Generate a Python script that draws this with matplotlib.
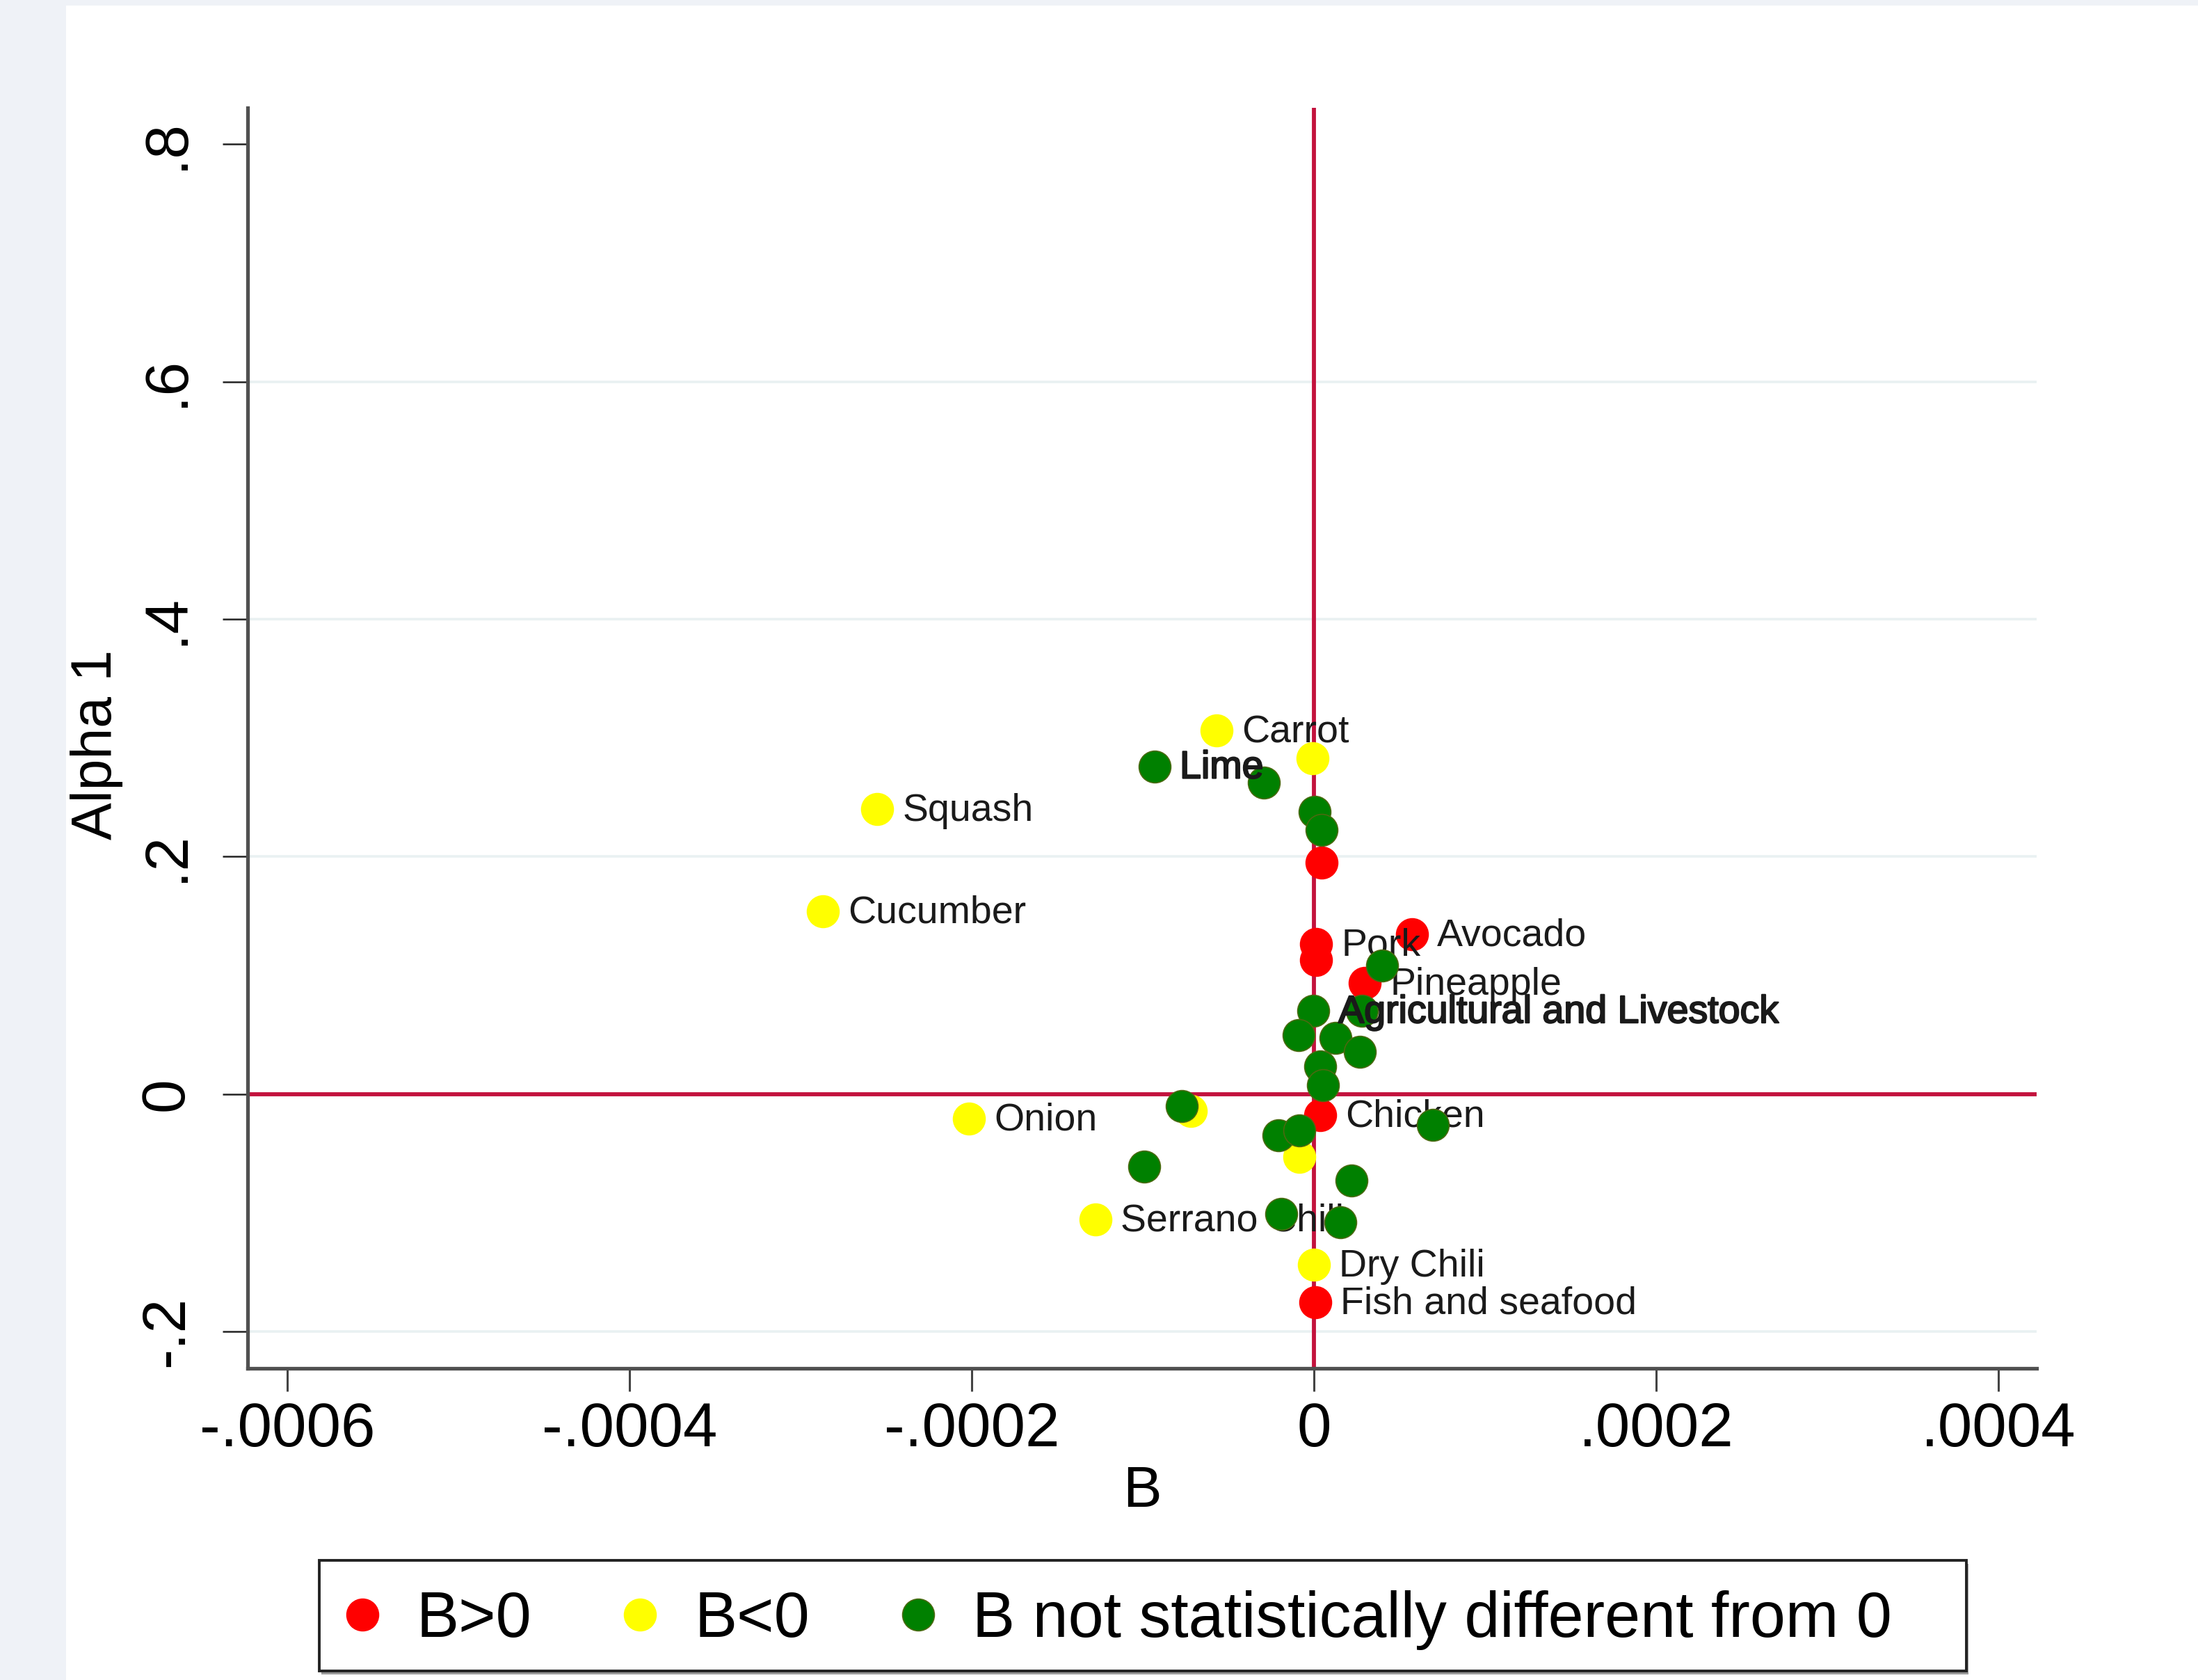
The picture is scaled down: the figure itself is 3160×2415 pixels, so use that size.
import matplotlib
matplotlib.use("Agg")
import matplotlib.pyplot as plt
import matplotlib.patheffects as pe
from matplotlib.patches import Rectangle
from matplotlib.lines import Line2D

plt.rcParams['font.family'] = ['Liberation Sans', 'DejaVu Sans']

# B > 0
red_x = [4.5e-6, 1.2e-6, 1.2e-6, 5.73e-5, 2.97e-5, 3.7e-6, 0.8e-6]
red_y = [0.195, 0.1265, 0.113, 0.1347, 0.0937, -0.0176, -0.175]
red_lab = ['', 'Pork', '', 'Avocado', 'Pineapple', 'Chicken', 'Fish and seafood']

# B < 0
yel_x = [-5.69e-5, -0.8e-6, -2.553e-4, -2.870e-4, -2.016e-4, -7.2e-5, -8.5e-6, -1.276e-4, 0.0]
yel_y = [0.306, 0.283, 0.240, 0.154, -0.0205, -0.014, -0.0527, -0.1054, -0.1435]
yel_lab = ['Carrot', '', 'Squash', 'Cucumber', 'Onion', '', '', 'Serrano Chili', 'Dry Chili']

# B not statistically different from 0
grn_x = [-9.31e-5, -2.93e-5, 0.4e-6, 4.5e-6, 3.98e-5, -0.4e-6, 2.8e-5, -8.9e-6, 1.26e-5,
         2.68e-5, 3.7e-6, 5.3e-6, -7.72e-5, -2.07e-5, -8.5e-6, 6.95e-5, -9.92e-5, 2.2e-5,
         -1.91e-5, 1.54e-5]
grn_y = [0.2759, 0.2624, 0.2378, 0.2226, 0.1084, 0.0700, 0.0703, 0.0498, 0.0474,
         0.0357, 0.0234, 0.0076, -0.010, -0.0346, -0.0305, -0.0258, -0.0609, -0.0726,
         -0.1007, -0.1078]
grn_lab = ['Lime', '', '', '', '', 'Agricultural and Livestock'] + [''] * 14
bold_labels = ['Lime', 'Agricultural and Livestock']

xticks = [-0.0006, -0.0004, -0.0002, 0.0, 0.0002, 0.0004]
xtick_labels = ['-.0006', '-.0004', '-.0002', '0', '.0002', '.0004']
yticks = [-0.2, 0.0, 0.2, 0.4, 0.6, 0.8]
ytick_labels = ['-.2', '0', '.2', '.4', '.6', '.8']
grid_y = [-0.2, 0.2, 0.4, 0.6]

legend_labels = ['B>0', 'B<0', 'B not statistically different from 0']

W, H = 3160, 2415
fig = plt.figure(figsize=(W / 100, H / 100), dpi=100)
fig.patch.set_facecolor('#eff2f7')
fig.patches.append(Rectangle((95 / W, 0), 1 - 95 / W, (H - 8) / H, transform=fig.transFigure,
                             facecolor='white', edgecolor='none', zorder=-1))

ax = fig.add_axes([356 / W, 448 / H, 2572 / W, 1812 / H])
ax.set_xlim(-6.232e-4, 4.224e-4)
ax.set_ylim(-0.2308, 0.8305)

for gy in grid_y:
    ax.axhline(gy, color='#e9f1f2', lw=2.6, zorder=1)
ax.axhline(0, color='#c3123d', lw=4.2, zorder=2)
ax.axvline(0, color='#c3123d', lw=4.2, zorder=2)

groups = [
    (red_x, red_y, red_lab, '#ff0000', '#ff0000', 3),
    (yel_x, yel_y, yel_lab, '#ffff00', '#ffff00', 4),
    (grn_x, grn_y, grn_lab, '#008000', '#4a6a10', 5),
]
handles = []
for xs, ys, labs, fc, ec, z in groups:
    h, = ax.plot(xs, ys, 'o', ms=33, mfc=fc, mec=ec, mew=1.2, ls='none', zorder=z)
    handles.append(h)
    for x, y, lab in zip(xs, ys, labs):
        if not lab:
            continue
        t = ax.annotate(lab, (x, y), xytext=(26, -12), textcoords='offset points',
                        fontsize=40, va='baseline', ha='left', color='#1a1a1a',
                        zorder=z + 0.5)
        if lab in bold_labels:
            t.set_path_effects([pe.withStroke(linewidth=1.6, foreground='#1a1a1a')])

# axes styling
for side in ['top', 'right']:
    ax.spines[side].set_visible(False)
for side in ['left', 'bottom']:
    ax.spines[side].set_color('#505050')
    ax.spines[side].set_linewidth(3.8)

ax.set_xticks(xticks)
ax.set_xticklabels(xtick_labels)
ax.set_yticks(yticks)
ax.set_yticklabels(ytick_labels)
ax.tick_params(axis='x', length=24, width=2.2, color='#444444', labelsize=64, pad=10)
ax.tick_params(axis='y', length=26, width=1.8, color='#222222', labelsize=63, pad=28,
               labelrotation=90)
for lab in ax.get_yticklabels():
    lab.set_va('center')

ax.set_xlabel('B', fontsize=60)
ax.xaxis.set_label_coords(0.5, -0.076)
ax.set_ylabel('Alpha 1', fontsize=58)
ax.yaxis.set_label_coords(-0.0696, 0.495)

# legend box with shadow
fig.patches.append(Rectangle(((459 + 3) / W, (13 - 5) / H), 2368 / W, 159 / H,
                             transform=fig.transFigure, facecolor='#9a9a9a',
                             edgecolor='none', zorder=1))
fig.patches.append(Rectangle((459 / W, 13 / H), 2368 / W, 159 / H, transform=fig.transFigure,
                             facecolor='white', edgecolor='#222222', lw=2.8, zorder=2))
leg_handles = [Line2D([], [], marker='o', ls='none', ms=33, mfc=h.get_mfc(), mec=h.get_mec(),
                      mew=1.2) for h in handles]
fig.legend(leg_handles, legend_labels, loc='center left',
           bbox_to_anchor=(484 / W, (H - 2329) / H), ncol=3, frameon=False, fontsize=66,
           handlelength=0.8, handletextpad=0.45, columnspacing=1.3, borderpad=0,
           borderaxespad=0)

fig.savefig('out.png', dpi=100, facecolor=fig.get_facecolor())
